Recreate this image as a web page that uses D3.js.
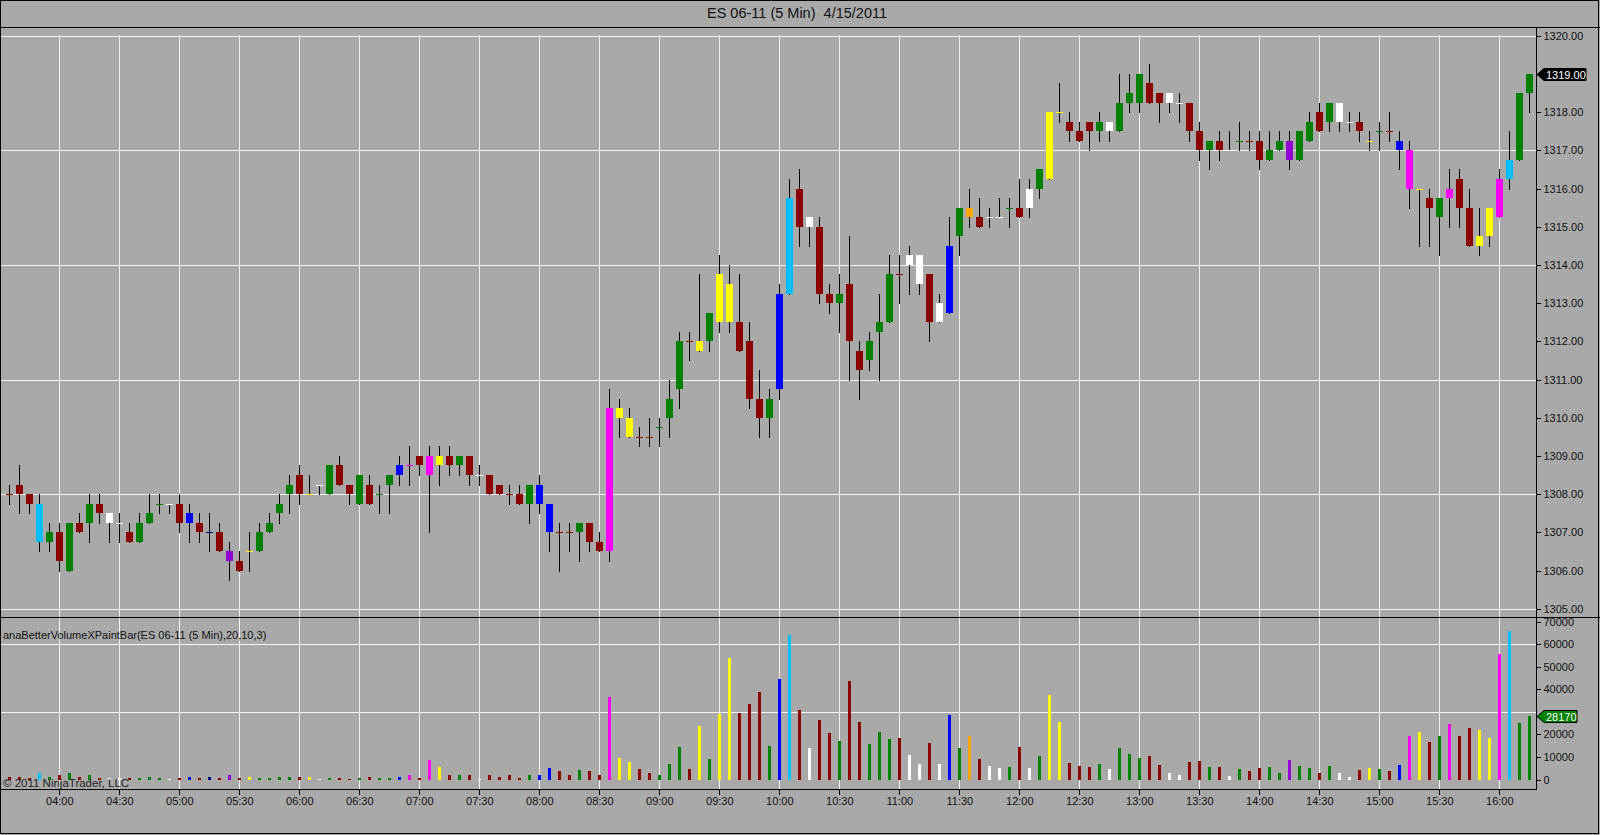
<!DOCTYPE html>
<html>
<head>
<meta charset="utf-8">
<script src="https://cdn.jsdelivr.net/npm/d3@7"></script>
<style>
  html, body { margin: 0; padding: 0; background: #a9a9a9; }
  svg { display: block; font-family: "Liberation Sans", Arial, sans-serif; }
</style>
</head>
<body>
<svg id="chart" width="1600" height="835"></svg>
<script>
// ES 06-11, 5 min bars from 03:35 to 16:15
const firstBar = "03:35";
const opens = [
  1308, 1308.25, 1308, 1307.75, 1306.75, 1307, 1306, 1307.25, 1307.25, 1307.75,
  1307.5, 1307.25, 1307, 1306.75, 1307.25, 1307.75, 1307.75, 1307.75, 1307.25, 1307.25,
  1307, 1307, 1306.5, 1306.25, 1306.5, 1306.5, 1307, 1307.5, 1308, 1308.5,
  1308, 1308.25, 1308, 1308.75, 1308.25, 1307.75, 1308.25, 1308, 1308.25, 1308.5,
  1308.75, 1309, 1309, 1308.75, 1309, 1308.75, 1309, 1308.5, 1308.5, 1308.25,
  1308, 1308, 1307.75, 1307.75, 1307.75, 1307, 1307, 1307, 1307.25, 1306.75,
  1306.5, 1310.25, 1310, 1309.5, 1309.5, 1309.75, 1310, 1310.75, 1312, 1312,
  1312, 1312.5, 1313.5, 1312.5, 1312, 1310.5, 1310, 1310.75, 1313.25, 1316,
  1315.25, 1315, 1313.25, 1313, 1313.5, 1311.75, 1311.5, 1312.25, 1312.5, 1313.75,
  1314.25, 1314.25, 1313.75, 1312.5, 1312.75, 1314.75, 1315.5, 1315.25, 1315.25, 1315.25,
  1315.5, 1315.5, 1315.5, 1316, 1316.25, 1318, 1317.75, 1317.5, 1317.75, 1317.5,
  1317.75, 1317.5, 1318.25, 1318.25, 1318.75, 1318.5, 1318.5, 1318.25, 1318.25, 1317.5,
  1317, 1317.25, 1317, 1317.25, 1317.25, 1317.25, 1316.75, 1317, 1317.25, 1316.75,
  1317.25, 1318, 1317.75, 1318.25, 1317.75, 1317.75, 1317.25, 1317.5, 1317.5, 1317.25,
  1317, 1316, 1315.75, 1315.25, 1316, 1316.25, 1315.5, 1314.75, 1314.75, 1315.25,
  1316.25, 1316.75, 1318.5
];
const highs = [
  1308.25, 1308.75, 1308, 1308, 1307.25, 1307.25, 1307.25, 1307.5, 1308, 1308,
  1307.5, 1307.5, 1307.25, 1307.5, 1308, 1308, 1307.75, 1308, 1307.75, 1307.5,
  1307.5, 1307.25, 1306.75, 1306.5, 1307, 1307.25, 1307.5, 1308, 1308.5, 1308.75,
  1308.5, 1308.25, 1308.75, 1309, 1308.25, 1308.5, 1308.5, 1308.25, 1308.5, 1309,
  1309.25, 1309, 1309.25, 1309.25, 1309.25, 1309, 1309, 1308.75, 1308.5, 1308.25,
  1308.25, 1308.25, 1308.25, 1308.5, 1307.75, 1307.25, 1307.25, 1307.25, 1307.25, 1307,
  1310.75, 1310.5, 1310.25, 1309.75, 1310, 1310, 1311, 1312.25, 1312.25, 1313.75,
  1312.75, 1314.25, 1314, 1313.75, 1312.5, 1311.25, 1310.75, 1313.5, 1316.25, 1316.5,
  1315.25, 1315.25, 1313.5, 1313.75, 1314.75, 1312, 1312.25, 1313.25, 1314.25, 1314.25,
  1314.5, 1314.25, 1313.75, 1313.25, 1315.25, 1315.5, 1316, 1315.75, 1315.5, 1315.75,
  1315.75, 1316.25, 1316.25, 1316.5, 1318, 1318.75, 1318, 1317.75, 1317.75, 1318,
  1317.75, 1319, 1319, 1319, 1319.25, 1318.5, 1318.5, 1318.5, 1318.25, 1317.75,
  1317.25, 1317.5, 1317.5, 1317.75, 1317.5, 1317.5, 1317.5, 1317.5, 1317.5, 1317.5,
  1318, 1318.25, 1318.25, 1318.25, 1318, 1318, 1317.5, 1317.75, 1318, 1317.5,
  1317.25, 1316, 1316, 1315.75, 1316.5, 1316.5, 1316, 1315.5, 1315.5, 1316.5,
  1317.5, 1318.5, 1319
];
const lows = [
  1307.75, 1307.5, 1307.5, 1306.5, 1306.5, 1306, 1306, 1307, 1306.75, 1307.25,
  1306.75, 1306.75, 1306.75, 1306.75, 1307.25, 1307.5, 1307.5, 1307, 1306.75, 1306.75,
  1306.5, 1306.5, 1305.75, 1306, 1306, 1306.5, 1307, 1307.25, 1307.5, 1307.75,
  1308, 1308, 1308, 1308.25, 1307.75, 1307.75, 1307.75, 1307.5, 1307.5, 1308.25,
  1308.25, 1308.5, 1307, 1308.25, 1308.5, 1308.5, 1308.25, 1308.25, 1308, 1308,
  1307.75, 1307.75, 1307.25, 1307.5, 1306.5, 1306, 1306.5, 1306.25, 1306.5, 1306.5,
  1306.25, 1309.5, 1309.5, 1309.25, 1309.25, 1309.25, 1309.5, 1310.25, 1311.5, 1311.75,
  1311.75, 1312.25, 1312.25, 1311.75, 1310.25, 1309.5, 1309.5, 1310.5, 1313.25, 1314.5,
  1314.5, 1313, 1312.75, 1312.25, 1311, 1310.5, 1311.25, 1311, 1312.5, 1313,
  1313.25, 1313.25, 1312, 1312.5, 1312.75, 1314.25, 1315, 1315, 1315, 1315.25,
  1315, 1315.25, 1315.25, 1315.75, 1316.25, 1317.75, 1317.25, 1317.25, 1317, 1317.25,
  1317.25, 1317.5, 1318, 1318, 1318.25, 1317.75, 1318, 1317.75, 1317.25, 1316.75,
  1316.5, 1316.75, 1317, 1317, 1317, 1316.5, 1316.75, 1317, 1316.5, 1316.75,
  1317.25, 1317.5, 1317.5, 1317.5, 1317.5, 1317.25, 1317, 1317, 1317.25, 1316.5,
  1315.5, 1314.5, 1314.5, 1314.25, 1315, 1315, 1314.5, 1314.25, 1314.5, 1315.25,
  1316, 1316.75, 1318
];
const closes = [
  1308, 1308, 1307.75, 1306.75, 1307, 1306.25, 1307.25, 1307, 1307.75, 1307.5,
  1307.25, 1307.25, 1306.75, 1307.25, 1307.5, 1307.75, 1307.75, 1307.25, 1307.5, 1307,
  1307, 1306.5, 1306.25, 1306, 1306.5, 1307, 1307.25, 1307.75, 1308.25, 1308,
  1308, 1308.25, 1308.75, 1308.25, 1308, 1308.5, 1307.75, 1308, 1308.5, 1308.75,
  1308.75, 1308.75, 1308.5, 1309, 1308.75, 1309, 1308.5, 1308.5, 1308, 1308,
  1308, 1307.75, 1308.25, 1308.25, 1307, 1307, 1307, 1307.25, 1306.75, 1306.5,
  1310.25, 1310, 1309.5, 1309.5, 1309.5, 1309.75, 1310.5, 1312, 1312, 1311.75,
  1312.75, 1313.75, 1312.5, 1311.75, 1310.5, 1310, 1310.5, 1313.25, 1315.75, 1315,
  1315, 1313.25, 1313, 1313.25, 1312, 1311.25, 1312, 1312.5, 1313.75, 1313.75,
  1314, 1313.5, 1312.5, 1313, 1314.5, 1315.5, 1315.25, 1315, 1315.25, 1315.25,
  1315.5, 1315.25, 1316, 1316.5, 1318, 1318, 1317.5, 1317.25, 1317.5, 1317.75,
  1317.5, 1318.25, 1318.5, 1319, 1318.25, 1318.25, 1318.25, 1318.25, 1317.5, 1317,
  1317.25, 1317, 1317, 1317.25, 1317.25, 1316.75, 1317, 1317.25, 1316.75, 1317.5,
  1317.75, 1317.5, 1318.25, 1317.75, 1317.75, 1317.5, 1317.25, 1317.5, 1317.5, 1317,
  1316, 1316, 1315.5, 1315.75, 1315.75, 1315.5, 1314.5, 1314.5, 1315.5, 1316.25,
  1316.75, 1318.5, 1319
];
const volumes = [
  1300, 1300, 600, 3000, 1300, 1800, 2700, 1300, 1800, 450,
  450, 450, 450, 450, 900, 450, 300, 450, 900, 450,
  900, 450, 1900, 450, 1300, 450, 450, 900, 1300, 1300,
  900, 300, 450, 450, 300, 450, 900, 450, 600, 1300,
  2200, 450, 8500, 5500, 2200, 1800, 1800, 300, 2200, 900,
  2200, 750, 2200, 2200, 4900, 3600, 1900, 4000, 3600, 1900,
  36400, 9500, 7600, 4500, 2700, 2200, 6700, 14500, 4500, 23800,
  9100, 28800, 53800, 29500, 33500, 38900, 14800, 44700, 64100, 30800,
  14000, 26400, 20600, 17000, 43500, 25500, 15600, 21000, 17900, 18500,
  10700, 6700, 16100, 6700, 28600, 13900, 19200, 8900, 5800, 4900,
  5400, 14300, 4900, 10300, 37500, 25500, 7200, 6000, 5400, 6700,
  4500, 14000, 11200, 9400, 10300, 6300, 3100, 2200, 7600, 8000,
  5400, 5400, 1500, 4500, 3600, 4900, 5400, 3100, 8500, 5800,
  4900, 3100, 5800, 3100, 1300, 4000, 4900, 4500, 3600, 6300,
  19200, 21000, 16500, 19200, 24600, 19200, 22800, 21900, 18300, 55400,
  65700, 25000, 28170
];
// paint bar class of each bar (candle and volume share it)
const paint = [
  "R","R","R","C","G","R","G","R","G","R",
  "W","W","R","G","G","G","W","R","B","R",
  "N","R","P","R","Y","G","G","G","G","R",
  "Y","W","G","R","R","G","R","G","G","B",
  "M","R","M","Y","R","G","R","W","R","R",
  "R","R","G","B","B","R","R","G","R","R",
  "M","Y","Y","R","R","G","G","G","R","Y",
  "G","Y","Y","R","R","R","G","B","C","R",
  "W","R","R","G","R","R","G","G","G","R",
  "W","W","R","W","B","G","O","R","W","W",
  "G","R","W","G","Y","Y","R","R","R","G",
  "W","G","G","G","R","R","W","W","R","R",
  "G","R","W","G","R","R","G","G","P","G",
  "G","R","G","W","W","R","Y","G","R","B",
  "M","Y","R","G","M","R","R","Y","Y","M",
  "C","G","G"
];
const paintColors = {
  R: "#8b0000", G: "#008000", C: "#00bfff", B: "#0000ff", W: "#ffffff",
  Y: "#ffff00", M: "#ff00ff", P: "#9400d3", O: "#ffa500", N: "#000080"
};
const timeTicks = ["04:00", "04:30", "05:00", "05:30", "06:00", "06:30", "07:00", "07:30",
  "08:00", "08:30", "09:00", "09:30", "10:00", "10:30", "11:00", "11:30", "12:00",
  "12:30", "13:00", "13:30", "14:00", "14:30", "15:00", "15:30", "16:00"];
const priceTicks = [1305, 1306, 1307, 1308, 1309, 1310, 1311, 1312, 1313, 1314,
  1315, 1316, 1317, 1318, 1319, 1320];
const priceGrid = [1305, 1308, 1311, 1314, 1317, 1320];
// 30000 sits under the last-volume marker in the reference
const volumeTicks = [0, 10000, 20000, 40000, 50000, 60000, 70000];
const volumeGrid = [30000, 60000];

const title = "ES 06-11 (5 Min)  4/15/2011";
const volumeLabel = "anaBetterVolumeXPaintBar(ES 06-11 (5 Min),20,10,3)";

const parseHM = d3.timeParse("%H:%M");
const t0 = parseHM(firstBar);
const times = opens.map((d, i) => d3.timeMinute.offset(t0, 5 * i));
const bars = times.map((t, i) => ({
  t: t, o: opens[i], h: highs[i], l: lows[i], c: closes[i],
  v: volumes[i], col: paintColors[paint[i]]
}));
const n = bars.length;

const plotL = 1, plotR = 1537;
const priceTop = 27.5, sepY = 617.5, volBottom = 789.5;

const x = d3.scaleTime().domain([times[0], times[n - 1]]).range([9.3, 1529.3]);
const yP = d3.scaleLinear().domain([1305, 1320]).range([608.7, 35.7]);
const yV = d3.scaleLinear().domain([0, 70000]).range([779.5, 621.5]);
const px = v => Math.round(v) + 0.5;

const svg = d3.select('#chart');
svg.append('rect').attr('width', 1600).attr('height', 835).attr('fill', '#a9a9a9');

svg.append('text')
  .attr('x', 797).attr('y', 18)
  .attr('text-anchor', 'middle')
  .attr('font-size', 14.5)
  .attr('fill', '#111')
  .style('white-space', 'pre')
  .text(title);

// grid
const grid = svg.append('g').attr('stroke', '#f4f4f4').attr('stroke-width', 1)
  .attr('shape-rendering', 'crispEdges');
timeTicks.forEach(s => {
  const gx = px(x(parseHM(s)));
  grid.append('line').attr('x1', gx).attr('x2', gx).attr('y1', 35).attr('y2', volBottom);
});
priceGrid.forEach(p => {
  const gy = px(yP(p));
  grid.append('line').attr('x1', plotL).attr('x2', plotR).attr('y1', gy).attr('y2', gy);
});
volumeGrid.forEach(v => {
  const gy = px(yV(v));
  grid.append('line').attr('x1', plotL).attr('x2', plotR).attr('y1', gy).attr('y2', gy);
});

// candles
const bodyW = 7;
const candles = svg.append('g').attr('shape-rendering', 'crispEdges');
bars.forEach(b => {
  const cx = px(x(b.t));
  candles.append('line')
    .attr('x1', cx).attr('x2', cx)
    .attr('y1', Math.round(yP(b.h))).attr('y2', Math.round(yP(b.l)) + 1)
    .attr('stroke', '#000');
  if (b.o === b.c) {
    const dy = px(yP(b.o));
    candles.append('line')
      .attr('x1', cx - 3.5).attr('x2', cx + 3.5)
      .attr('y1', dy).attr('y2', dy)
      .attr('stroke', b.col);
  } else {
    const top = Math.round(yP(Math.max(b.o, b.c)));
    const bot = Math.round(yP(Math.min(b.o, b.c)));
    candles.append('rect')
      .attr('x', cx - 3.5).attr('y', top)
      .attr('width', bodyW).attr('height', bot - top)
      .attr('fill', b.col);
  }
});

// volume bars
svg.append('g').attr('shape-rendering', 'crispEdges')
  .selectAll('rect').data(bars).enter().append('rect')
  .attr('x', d => Math.round(x(d.t)) - 1)
  .attr('y', d => Math.round(yV(d.v)))
  .attr('width', 3)
  .attr('height', d => Math.round(yV(0)) - Math.round(yV(d.v)))
  .attr('fill', d => d.col);

svg.append('text')
  .attr('x', 3).attr('y', 639)
  .attr('font-size', 11).attr('fill', '#111')
  .text(volumeLabel);
svg.append('text')
  .attr('x', 3).attr('y', 787)
  .attr('font-size', 11.5).attr('fill', '#222')
  .text('\u00a9 2011 NinjaTrader, LLC');

// frame lines
const frame = svg.append('g').attr('stroke', '#000').attr('shape-rendering', 'crispEdges');
frame.append('line').attr('x1', 0).attr('x2', 1600).attr('y1', priceTop).attr('y2', priceTop);
frame.append('line').attr('x1', 0).attr('x2', 1600).attr('y1', sepY).attr('y2', sepY);
frame.append('line').attr('x1', 0).attr('x2', plotR).attr('y1', volBottom).attr('y2', volBottom);
frame.append('line').attr('x1', plotR - 0.5).attr('x2', plotR - 0.5).attr('y1', priceTop).attr('y2', volBottom);
frame.append('rect').attr('x', 0.5).attr('y', 0.5).attr('width', 1598).attr('height', 833)
  .attr('fill', 'none');

// axes
function styleAxis(g) {
  g.select('.domain').remove();
  g.selectAll('.tick line').attr('stroke', '#000').attr('shape-rendering', 'crispEdges');
  g.selectAll('.tick text').attr('fill', '#111')
    .attr('font-family', '"Liberation Sans", Arial, sans-serif').attr('font-size', 11);
}
svg.append('g')
  .attr('transform', `translate(${plotR - 0.5},0)`)
  .call(d3.axisRight(yP).tickValues(priceTicks).tickFormat(d3.format('.2f'))
    .tickSize(4).tickPadding(3))
  .call(styleAxis);
svg.append('g')
  .attr('transform', `translate(${plotR - 0.5},0)`)
  .call(d3.axisRight(yV).tickValues(volumeTicks).tickFormat(d3.format('d'))
    .tickSize(4).tickPadding(3))
  .call(styleAxis);
svg.append('g')
  .attr('transform', `translate(0,${volBottom})`)
  .call(d3.axisBottom(x).tickValues(timeTicks.map(parseHM))
    .tickFormat(d3.timeFormat('%H:%M')).tickSize(5).tickPadding(3))
  .call(styleAxis);

// last value markers
function marker(yv, label, fill, w) {
  const yy = Math.round(yv) + 0.5, hh = 6, x0 = plotR, x1 = plotR + 7, x2 = plotR + 7 + w;
  svg.append('path')
    .attr('d', `M${x0},${yy}L${x1},${yy - hh}L${x2},${yy - hh}L${x2},${yy + hh}L${x1},${yy + hh}Z`)
    .attr('fill', fill).attr('stroke', '#000').attr('stroke-width', 1);
  svg.append('text')
    .attr('x', x1 + 2).attr('y', yy + 4)
    .attr('font-size', 11).attr('fill', '#fff')
    .text(label);
}
const last = bars[n - 1];
marker(yP(last.c), d3.format('.2f')(last.c), '#000', 42);
marker(yV(last.v), d3.format('d')(last.v), '#008000', 33);
</script>
</body>
</html>
